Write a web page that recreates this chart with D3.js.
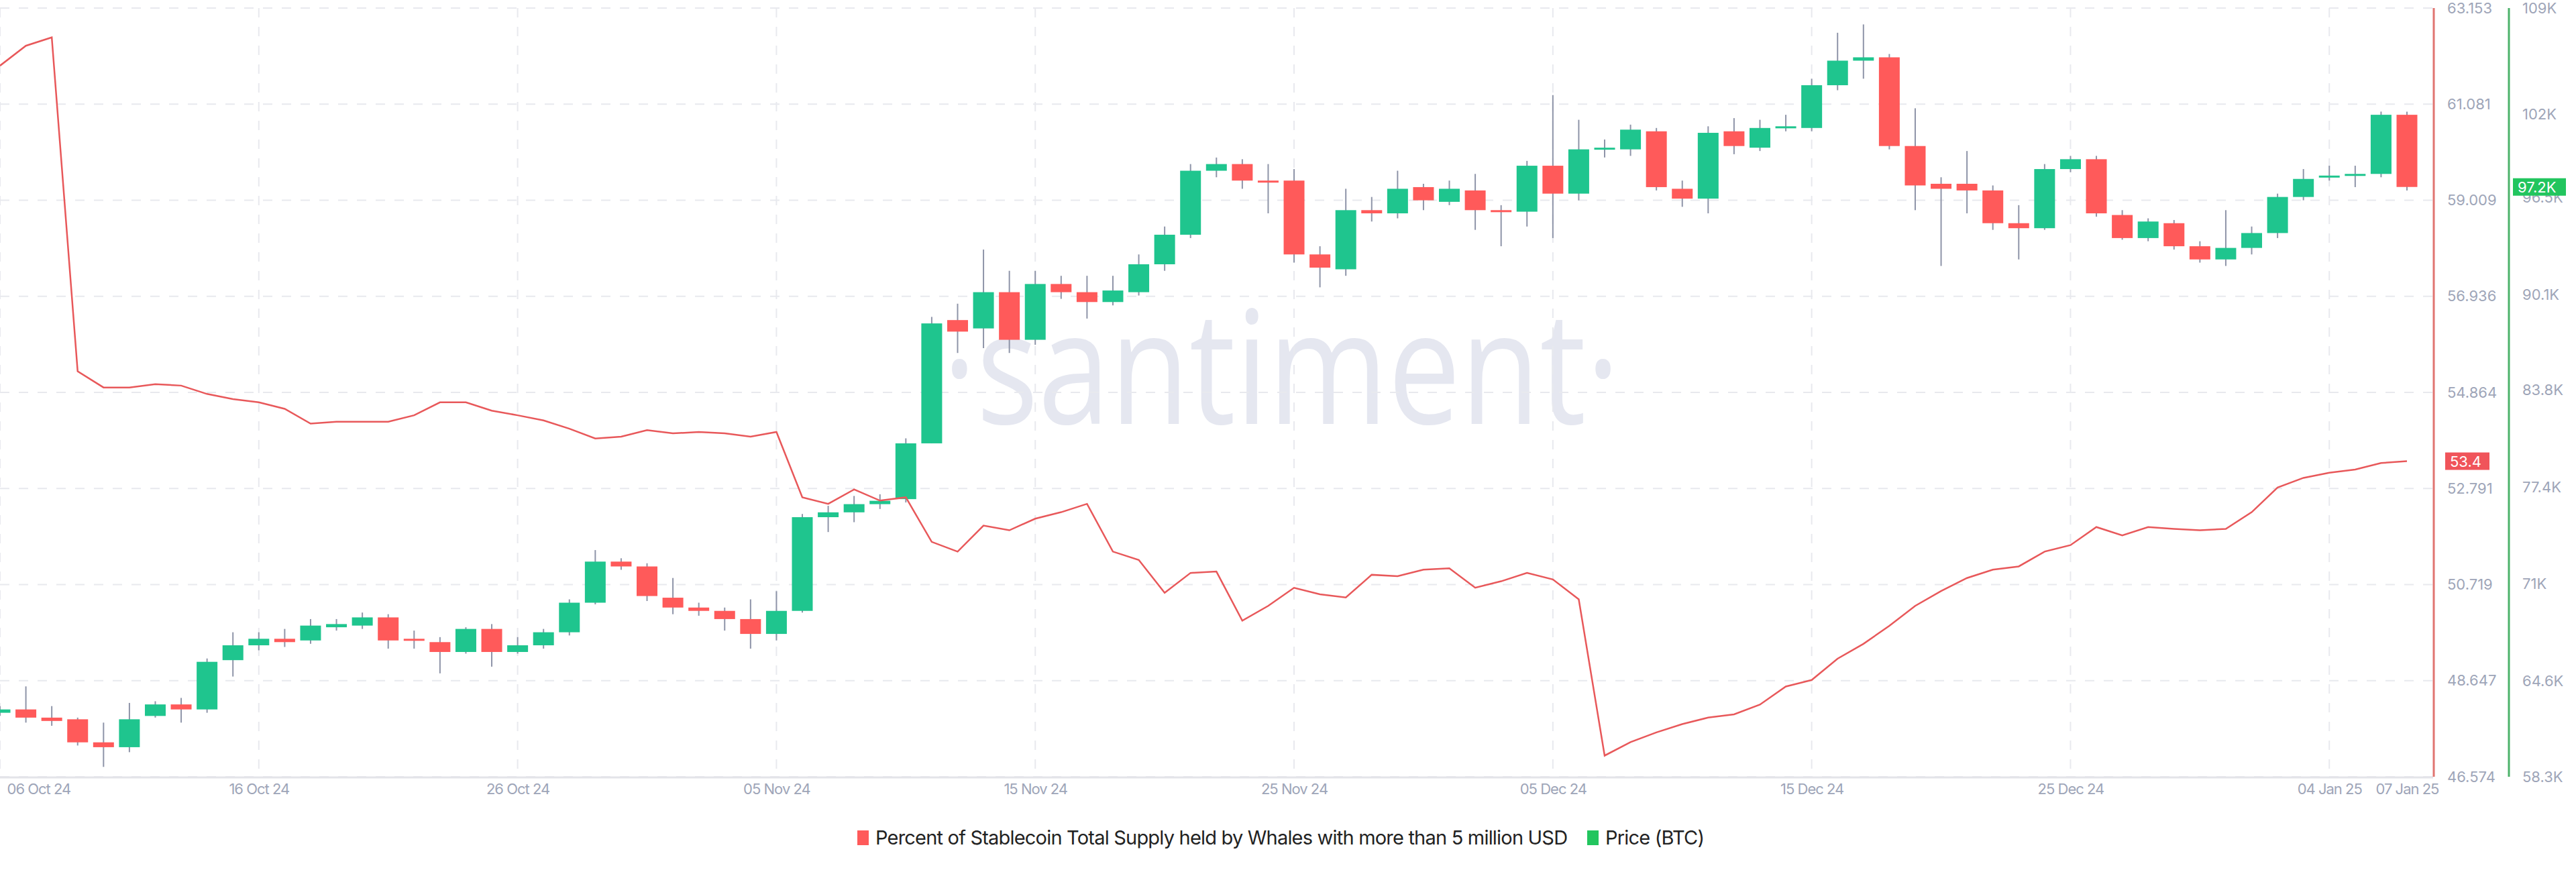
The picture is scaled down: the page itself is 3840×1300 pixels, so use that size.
<!DOCTYPE html>
<html><head><meta charset="utf-8">
<script src="https://cdn.jsdelivr.net/npm/d3@7"></script>
<style>body{margin:0;background:#fff;font-family:Inter,"Noto Sans",sans-serif}</style>
</head><body><svg id="c" width="3840" height="1300"></svg>
<script>
const startDate = "2024-10-06";
const whalePct = [61.91,62.34,62.52,55.32,54.97,54.97,55.04,55.01,54.83,54.72,54.65,54.51,54.19,54.23,54.23,54.23,54.37,54.65,54.65,54.47,54.37,54.26,54.08,53.87,53.91,54.05,53.98,54.01,53.98,53.91,54.01,52.60,52.46,52.77,52.53,52.60,51.64,51.43,51.99,51.89,52.14,52.28,52.46,51.43,51.25,50.54,50.97,51.00,49.94,50.26,50.65,50.51,50.44,50.93,50.90,51.04,51.07,50.65,50.79,50.97,50.83,50.40,47.03,47.32,47.53,47.71,47.85,47.92,48.13,48.52,48.66,49.12,49.44,49.83,50.26,50.58,50.86,51.04,51.11,51.43,51.57,51.96,51.78,51.96,51.92,51.89,51.92,52.28,52.81,53.02,53.13,53.20,53.34,53.38];
// BTC price in thousands USD: [open, close, high, low]
const btcOHLC = [
[62.52,62.74,62.96,62.31],[62.74,62.20,64.26,61.87],[62.20,61.98,62.96,61.66],[62.09,60.57,62.20,60.36],[60.57,60.25,61.87,58.95],
[60.25,62.09,63.17,59.92],[62.31,63.07,63.28,62.20],[63.07,62.74,63.50,61.87],[62.74,65.88,66.10,62.52],[65.99,66.97,67.83,64.91],
[66.97,67.40,67.83,66.64],[67.40,67.18,68.05,66.86],[67.29,68.27,68.70,67.07],[68.16,68.37,68.70,67.94],[68.27,68.81,69.13,68.05],
[68.81,67.29,69.02,66.75],[67.40,67.29,67.94,66.75],[67.18,66.53,67.51,65.12],[66.53,68.05,68.16,66.42],[68.05,66.53,68.37,65.56],
[66.53,66.97,67.51,66.42],[66.97,67.83,68.05,66.75],[67.83,69.78,70.00,67.62],[69.78,72.49,73.25,69.67],[72.49,72.17,72.71,71.95],
[72.17,70.22,72.38,69.89],[70.11,69.46,71.41,69.02],[69.46,69.24,69.78,68.92],[69.24,68.70,69.46,67.94],[68.70,67.72,70.00,66.75],
[67.72,69.24,70.54,67.29],[69.24,75.42,75.63,69.13],[75.42,75.74,76.17,74.44],[75.74,76.28,76.82,75.09],[76.28,76.50,76.93,75.96],
[76.61,80.29,80.62,76.39],[80.29,88.20,88.63,80.29],[88.42,87.66,89.50,86.25],[87.87,90.26,93.07,86.57],[90.26,87.12,91.67,86.25],
[87.12,90.80,91.67,86.79],[90.80,90.26,91.34,89.82],[90.26,89.61,91.34,88.52],[89.61,90.37,91.34,89.39],[90.26,92.10,92.75,90.04],
[92.10,94.05,94.59,91.67],[94.05,98.27,98.71,93.83],[98.27,98.71,99.14,97.84],[98.71,97.62,99.03,97.08],[97.62,97.52,98.71,95.46],
[97.62,92.75,98.38,92.21],[92.75,91.88,93.29,90.58],[91.77,95.67,97.08,91.34],[95.67,95.46,96.54,94.92],[95.46,97.08,98.27,95.13],
[97.19,96.32,97.41,95.67],[96.22,97.08,97.62,96.00],[96.97,95.67,98.06,94.37],[95.67,95.57,96.00,93.29],[95.57,98.60,98.92,94.59],
[98.60,96.76,103.26,93.83],[96.76,99.68,101.63,96.32],[99.68,99.79,100.33,99.14],[99.68,100.98,101.31,99.25],[100.87,97.19,101.09,96.97],
[97.08,96.43,97.62,95.89],[96.43,100.77,101.20,95.46],[100.87,99.90,101.74,99.36],[99.79,101.09,101.63,99.57],[101.09,101.20,101.96,100.87],
[101.09,103.91,104.34,100.87],[103.91,105.53,107.37,103.58],[105.53,105.75,107.92,104.34],[105.75,99.90,105.97,99.68],[99.90,97.30,102.39,95.67],
[97.41,97.08,97.84,91.99],[97.41,96.97,99.57,95.46],[96.97,94.81,97.30,94.37],[94.81,94.48,96.00,92.42],[94.48,98.38,98.71,94.37],
[98.38,99.03,99.25,98.17],[99.03,95.46,99.25,95.24],[95.35,93.83,95.67,93.72],[93.83,94.92,95.13,93.62],[94.81,93.29,95.02,93.07],
[93.29,92.42,93.62,92.21],[92.42,93.18,95.67,91.99],[93.18,94.16,94.59,92.75],[94.16,96.54,96.76,93.83],[96.54,97.73,98.38,96.32],
[97.84,97.95,98.60,97.62],[97.95,98.06,98.60,97.19],[98.06,101.96,102.17,97.84],[101.96,97.20,102.17,96.97]];
const pctTicks = [46.574,48.647,50.719,52.791,54.864,56.936,59.009,61.081,63.153];
const btcTicks = [58.3,64.6,71,77.4,83.8,90.1,96.5,102,109];
const btcTickLabels = ["58.3K","64.6K","71K","77.4K","83.8K","90.1K","96.5K","102K","109K"];
const dateTicks = ["2024-10-06","2024-10-16","2024-10-26","2024-11-05","2024-11-15","2024-11-25","2024-12-05","2024-12-15","2024-12-25","2025-01-04","2025-01-07"];
const legendLabels = ["Percent of Stablecoin Total Supply held by Whales with more than 5 million USD","Price (BTC)"];

const svg = d3.select("#c");
const W=3627, yTop=12, bot=1158;
const t0 = d3.utcParse("%Y-%m-%d")(startDate);
const day = i => d3.utcDay.offset(t0,i);
const x = d3.scaleUtc().domain([t0, day(93)]).range([0, 3588]);
const yP = d3.scaleLinear().domain([46.574,63.153]).range([bot,yTop]);
const yB = d3.scaleLinear().domain([58.3,109]).range([bot,yTop]);
const grey="#9ea5b8";

svg.append("text").attr("x",1405).attr("y",632)
 .attr("font-size",235).attr("fill","#e5e7f0").attr("font-family","'Open Sans',sans-serif").attr("font-weight",400)
 .attr("textLength",1010).attr("lengthAdjust","spacingAndGlyphs")
 .text("·santiment·");

const g=svg.append("g");
g.selectAll("line.h").data(pctTicks).join("line").attr("x1",0).attr("x2",W)
 .attr("y1",d=>yP(d)).attr("y2",d=>yP(d)).attr("stroke","#e8e9ee").attr("stroke-dasharray","14,14").attr("stroke-width",2);
const dt = dateTicks.map(d3.utcParse("%Y-%m-%d"));
g.selectAll("line.v").data(dt.slice(0,10)).join("line").attr("y1",yTop).attr("y2",bot)
 .attr("x1",d=>x(d)).attr("x2",d=>x(d)).attr("stroke","#e8e9ee").attr("stroke-dasharray","14,14").attr("stroke-width",2);
svg.append("line").attr("x1",0).attr("x2",W).attr("y1",bot+1).attr("y2",bot+1).attr("stroke","#e3e4e9").attr("stroke-width",3);

const cw=31;
const cg=svg.append("g");
btcOHLC.forEach((d,i)=>{
  const cx=x(day(i)), up=d[1]>=d[0];
  cg.append("line").attr("x1",cx).attr("x2",cx).attr("y1",yB(d[2])).attr("y2",yB(d[3])).attr("stroke","#8e94a8").attr("stroke-width",2);
  const y1=yB(Math.max(d[0],d[1])), y2=yB(Math.min(d[0],d[1]));
  cg.append("rect").attr("x",cx-cw/2).attr("width",cw).attr("y",y1).attr("height",Math.max(3,y2-y1))
    .attr("fill",up?"#1fc58e":"#ff5a5a");
});

svg.append("path").datum(whalePct).attr("fill","none").attr("stroke","#e8585a").attr("stroke-width",2.5)
 .attr("d",d3.line().x((d,i)=>x(day(i))).y(d=>yP(d)));

svg.append("line").attr("x1",3628).attr("x2",3628).attr("y1",yTop).attr("y2",bot).attr("stroke","#e07470").attr("stroke-width",3);
svg.append("line").attr("x1",3740).attr("x2",3740).attr("y1",yTop).attr("y2",bot).attr("stroke","#4cb26a").attr("stroke-width",3);
const axP = d3.axisRight(yP).tickValues(pctTicks).tickFormat(d3.format(".3f")).tickSize(0).tickPadding(0);
const axB = d3.axisRight(yB).tickValues(btcTicks).tickFormat((d,i)=>btcTickLabels[i]).tickSize(0).tickPadding(0);
[[axP,3648],[axB,3760]].forEach(([a,px])=>{
  const ag=svg.append("g").attr("transform",`translate(${px},0)`).call(a);
  ag.select(".domain").remove();
  ag.selectAll("text").attr("fill",grey).attr("font-size",22).attr("font-family","Inter,sans-serif");
});
const axX = d3.axisBottom(x).tickValues(dt).tickFormat(d3.utcFormat("%d %b %y")).tickSize(0).tickPadding(0);
const xg=svg.append("g").attr("transform",`translate(0,${bot+10})`).call(axX);
xg.select(".domain").remove();
xg.selectAll("text").attr("fill",grey).attr("font-size",22).attr("font-family","Inter,sans-serif").attr("letter-spacing",-1)
  .attr("text-anchor",(d,i)=>i===0?"start":"middle").attr("dx",(d,i)=>i===0?10:0);

function tag(px,py,txt,col){
  const tg=svg.append("g");
  tg.append("rect").attr("x",px).attr("y",py-13).attr("width",txt.length*13+14).attr("height",26).attr("fill",col);
  tg.append("text").attr("x",px+7).attr("y",py+8).attr("fill","#fff").attr("font-size",22).attr("font-family","Inter,sans-serif").text(txt);
}
tag(3645,yP(whalePct[93]),d3.format(".1f")(whalePct[93]),"#f0545a");
tag(3746,yB(btcOHLC[93][1]),d3.format(".1f")(btcOHLC[93][1])+"K","#22c55e");

const lg=svg.append("g").attr("font-size",29).attr("fill","#222").attr("font-family","Inter,sans-serif");
lg.append("rect").attr("x",1278).attr("y",1238).attr("width",17).attr("height",22).attr("fill","#ff5a5a");
lg.append("text").attr("x",1305).attr("y",1259).attr("letter-spacing",-0.8).text(legendLabels[0]);
lg.append("rect").attr("x",2366).attr("y",1238).attr("width",17).attr("height",22).attr("fill","#22c55e");
lg.append("text").attr("x",2393).attr("y",1259).attr("letter-spacing",-0.8).text(legendLabels[1]);
</script></body></html>
